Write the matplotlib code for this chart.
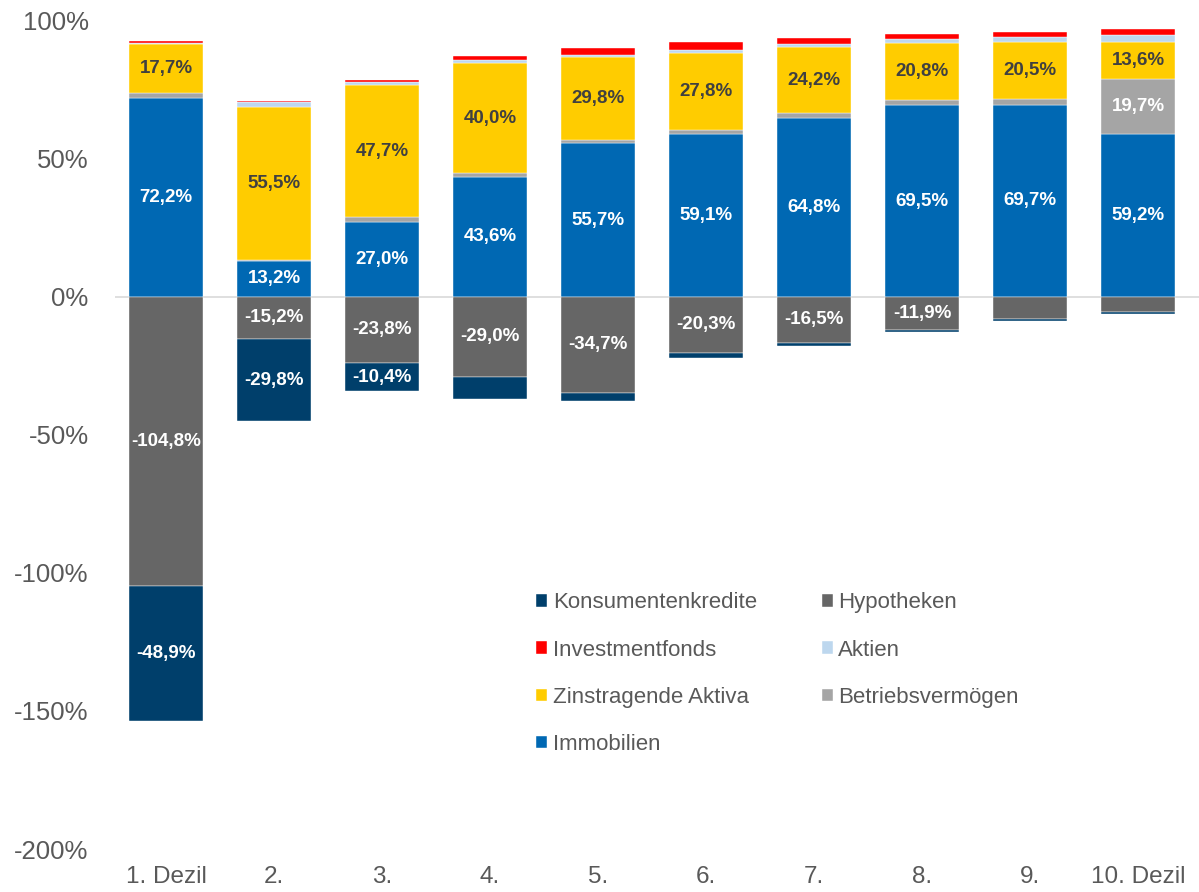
import matplotlib
matplotlib.use("Agg")
import matplotlib.pyplot as plt
import numpy as np

deciles = ["1. Dezil", "2.", "3.", "4.", "5.", "6.", "7.", "8.", "9.", "10. Dezil"]

# positive side (bottom to top)
immobilien = [72.2, 13.2, 27.0, 43.6, 55.7, 59.1, 64.8, 69.5, 69.7, 59.2]
betrieb = [1.7, 0.3, 2.0, 1.2, 1.3, 1.5, 1.7, 1.8, 2.2, 19.7]
zins = [17.7, 55.5, 47.7, 40.0, 29.8, 27.8, 24.2, 20.8, 20.5, 13.6]
aktien = [0.5, 1.5, 1.2, 1.0, 0.9, 1.1, 1.0, 1.4, 1.7, 2.4]
invest = [0.8, 0.5, 0.6, 1.6, 2.4, 3.0, 2.1, 1.7, 1.9, 2.3]

# negative side (top to bottom)
hypotheken = [-104.8, -15.2, -23.8, -29.0, -34.7, -20.3, -16.5, -11.9, -8.0, -5.3]
konsum = [-48.9, -29.8, -10.4, -7.8, -3.0, -1.7, -1.2, -0.9, -0.7, -0.7]

c_immo = "#0068b3"
c_betr = "#a5a5a5"
c_zins = "#ffcc00"
c_akt = "#bdd7ee"
c_inv = "#ff0000"
c_hyp = "#666666"
c_kons = "#003f6b"

plt.rcParams["font.family"] = ["Liberation Sans", "DejaVu Sans"]

fig = plt.figure(figsize=(11.99, 8.92), dpi=100)
ax = fig.add_axes([0.0959, 0.0482, 0.9041, 0.9283])

x = np.arange(len(deciles))
w = 0.68

def fmt(v):
    return f"{v:.1f}%".replace(".", ",")

def stack(vals, base, color, label, txtcolor):
    bars = ax.bar(x, vals, w, bottom=base, color=color, label=label,
                  edgecolor="white", linewidth=0.3)
    for xi, v, b in zip(x, vals, base):
        if abs(v) >= 10:
            ax.text(xi, b + v / 2, fmt(v), ha="center", va="center",
                    color=txtcolor, fontsize=13.5, fontweight="bold")
    return bars

pos = np.zeros(len(x))
h = {}
for vals, col, lab, tc in [(immobilien, c_immo, "Immobilien", "white"),
                           (betrieb, c_betr, "Betriebsvermögen", "white"),
                           (zins, c_zins, "Zinstragende Aktiva", "#404040"),
                           (aktien, c_akt, "Aktien", "white"),
                           (invest, c_inv, "Investmentfonds", "white")]:
    h[lab] = stack(vals, pos.copy(), col, lab, tc)
    pos += np.array(vals)

neg = np.zeros(len(x))
for vals, col, lab in [(hypotheken, c_hyp, "Hypotheken"),
                       (konsum, c_kons, "Konsumentenkredite")]:
    h[lab] = stack(vals, neg.copy(), col, lab, "white")
    neg += np.array(vals)

ax.axhline(0, color="#d9d9d9", linewidth=1.2, zorder=0)

ax.set_ylim(-200, 100)
ax.set_xlim(-0.472, 9.565)
ax.set_yticks(np.arange(-200, 101, 50))
ax.set_yticklabels([f"{t}%" for t in range(-200, 101, 50)])
ax.set_xticks(x)
ax.set_xticklabels(deciles)
for s in ax.spines.values():
    s.set_visible(False)
ax.tick_params(axis="y", length=0, pad=19, labelsize=18.5, labelcolor="#595959")
ax.tick_params(axis="x", length=0, pad=12, labelsize=17.5, labelcolor="#595959")

order = ["Konsumentenkredite", "Investmentfonds", "Zinstragende Aktiva", "Immobilien",
         "Hypotheken", "Aktien", "Betriebsvermögen"]
leg = ax.legend([h[k] for k in order], order, ncol=2, frameon=False,
                loc="upper left", bbox_to_anchor=(0.4306, 0.3584),
                bbox_transform=fig.transFigure, fontsize=16,
                handlelength=0.5, handleheight=0.5, handletextpad=0.25,
                labelspacing=1.18, columnspacing=2.9, labelcolor="#595959")

fig.savefig("out.png", dpi=100)
